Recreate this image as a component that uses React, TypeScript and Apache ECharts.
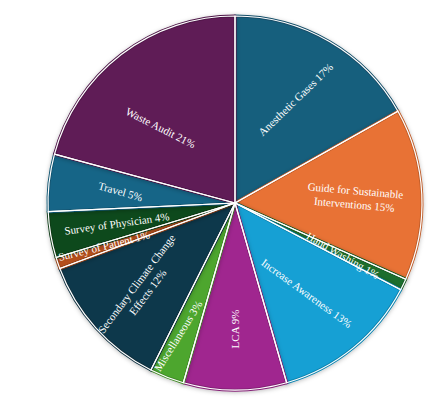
import React, { useEffect, useRef } from "react";
import * as echarts from "echarts";

const categories = [
  "Anesthetic Gases",
  "Guide for Sustainable\nInterventions",
  "Hand Washing",
  "Increase Awareness",
  "LCA",
  "Miscellaneous",
  "Secondary Climate Change\nEffects",
  "Survey of Patient",
  "Survey of Physician",
  "Travel",
  "Waste Audit",
];

const shares = [17, 15, 1, 13, 9, 3, 12, 1, 4, 5, 21];

const colors = [
  "#175e7d", "#e87234", "#1e6e2d", "#14a0d4", "#a0288f", "#4ea62e",
  "#0e384b", "#b4501e", "#10481c", "#156587", "#5f1b56",
];

// label tilt in degrees (anticlockwise)
const labelTilt = [44, -5, -30, -36, 90, 58, 53, 14, 8, -16, -27];
// nudges along the text line: [right padding, left padding]
const labelNudge = [
  [0, 0], [0, 0], [0, 0], [10, 0], [12, 0], [50, 0],
  [12, 0], [36, 0], [0, 0], [0, 10], [0, 16],
];
// empty space above a label, pushing it across its line
const labelDrop = [0, 0, 0, 0, 0, 0, 0, 0, 0, 0, 37];

function darken(hex: string, k: number) {
  const n = parseInt(hex.slice(1), 16);
  const r = Math.round(((n >> 16) & 255) * k);
  const g = Math.round(((n >> 8) & 255) * k);
  const b = Math.round((n & 255) * k);
  return `rgb(${r},${g},${b})`;
}

export default function App() {
  const chartRef = useRef<HTMLDivElement>(null);

  useEffect(() => {
    const chart = echarts.init(chartRef.current!, null, { renderer: "svg" });

    const center = [235, 203];
    const R = 187;

    chart.setOption({
      animation: false,
      series: [
        {
          type: "pie",
          center,
          radius: [0, R],
          startAngle: 90,
          silent: true,
          data: categories.map((name, i) => ({
            name,
            value: shares[i],
            itemStyle: { color: colors[i], borderColor: darken(colors[i], 0.82) },
          })),
          label: { show: false },
          labelLine: { show: false },
          itemStyle: {
            borderWidth: 3,
            shadowColor: "rgba(0,0,0,0.25)",
            shadowBlur: 4,
            shadowOffsetY: 1,
          },
        },
        {
          type: "pie",
          center,
          radius: [0, R],
          startAngle: 90,
          silent: true,
          data: categories.map((name, i) => ({ name, value: shares[i] })),
          label: { show: false },
          labelLine: { show: false },
          itemStyle: { color: "transparent", borderColor: "#ffffff", borderWidth: 1.2 },
        },
        {
          type: "pie",
          center,
          radius: [47, R],
          startAngle: 90,
          silent: true,
          avoidLabelOverlap: false,
          labelLayout: { hideOverlap: false },
          data: categories.map((name, i) => ({
            name,
            value: shares[i],
            label: {
              rotate: labelTilt[i],
              padding: [0, labelNudge[i][0], 0, labelNudge[i][1]],
              rich: { gap: { height: labelDrop[i], lineHeight: labelDrop[i] } },
            },
          })),
          itemStyle: { color: "transparent", borderWidth: 0 },
          labelLine: { show: false },
          label: {
            show: true,
            position: "inside",
            color: "#ffffff",
            fontFamily: "Liberation Serif",
            fontSize: 11,
            lineHeight: 14,
            align: "center",
            formatter: (p: any) =>
              (labelDrop[p.dataIndex] ? "{gap|}\n" : "") + `${p.name} ${p.value}%`,
          },
        },
      ],
    });

    return () => {
      chart.dispose();
    };
  }, []);

  return (
    <div
      ref={chartRef}
      style={{ position: "fixed", left: 0, top: 0, width: 442, height: 407, background: "#ffffff" }}
    />
  );
}
